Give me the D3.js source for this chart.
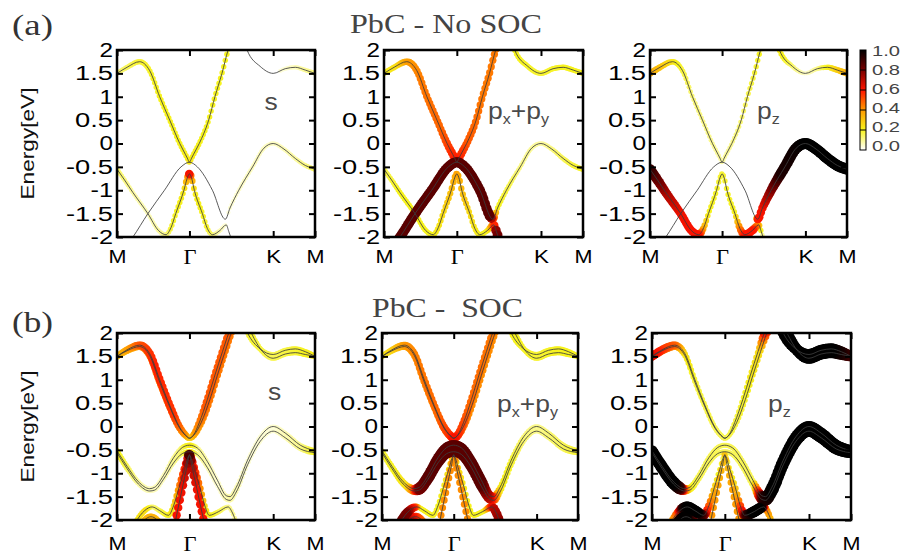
<!DOCTYPE html>
<html>
<head>
<meta charset="utf-8">
<script src="https://cdn.jsdelivr.net/npm/d3@7"></script>
<style>
  body { margin: 0; background: #fff; }
  svg { display: block; }
</style>
</head>
<body>
<svg id="fig" width="902" height="556"></svg>
<script>
// ---- k-path and axis ticks (hexagonal BZ: |ΓM| : |ΓK| : |KM| = 0.577 : 0.667 : 0.333)
const kTicks = [0, 0.577, 1.244, 1.577];
const kLabels = ["M", "Γ", "K", "M"];
const eTicks = [-2, -1.5, -1, -0.5, 0, 0.5, 1, 1.5, 2];
const eTickLabels = ["-2", "-1.5", "-1", "-0.5", "0", "0.5", "1", "1.5", "2"];
const cbTicks = [0, 0.2, 0.4, 0.6, 0.8, 1.0];
const cbTickLabels = ["0.0", "0.2", "0.4", "0.6", "0.8", "1.0"];
const cbColors = ["#ffffff", "#f7f31e", "#ff9a00", "#ff1400", "#780000", "#000000"];

// ---- bands without SOC: [k, E(eV)]
const nsV = [[0,1.5],[0.08,1.63],[0.18,1.75],[0.26,1.56],[0.34,1.0],[0.42,0.5],[0.5,0.0],[0.545,-0.234],[0.56,-0.312],[0.577,-0.4],[0.594,-0.313],[0.61,-0.23],[0.655,0.0],[0.73,0.5],[0.78,1.0],[0.836,1.5],[0.885,2.0],[0.95,2.4],[1.0,2.35],[1.036,2.0],[1.14,1.65],[1.244,1.5],[1.34,1.6],[1.42,1.63],[1.5,1.57],[1.577,1.5]];
const nsB = [[0,-0.55],[0.06,-0.78],[0.127,-1.05],[0.246,-1.5],[0.33,-1.86],[0.39,-1.95],[0.43,-1.8],[0.468,-1.5],[0.533,-1.0],[0.562,-0.72],[0.577,-0.65],[0.592,-0.72],[0.616,-1.0],[0.68,-1.5],[0.72,-1.82],[0.76,-1.95],[0.82,-1.86],[0.87,-1.74],[0.89,-1.88],[0.905,-2.0],[0.94,-2.35]];
const nsL = [[0,-2.45],[0.127,-2.0],[0.246,-1.5],[0.378,-1.0],[0.51,-0.5],[0.577,-0.4],[0.64,-0.5],[0.76,-1.0],[0.863,-1.62],[0.9,-1.38],[0.97,-1.0],[1.08,-0.5],[1.17,-0.1],[1.244,0.0],[1.33,-0.12],[1.42,-0.32],[1.5,-0.47],[1.577,-0.55]];

// orbital weights without SOC: [k, weight]
const nsV_s   = [[0,0.12],[0.18,0.18],[0.34,0.2],[0.5,0.2],[0.577,0.22],[0.655,0.2],[0.885,0.2],[0.95,0.1],[1.036,0.03],[1.244,0.02],[1.42,0.06],[1.577,0.12]];
const nsV_pxy = [[0,0.2],[0.1,0.25],[0.18,0.38],[0.3,0.45],[0.45,0.48],[0.577,0.6],[0.655,0.5],[0.78,0.45],[0.885,0.45],[0.95,0.3],[1.036,0.2],[1.244,0.18],[1.42,0.2],[1.577,0.2]];
const nsV_pz  = [[0,0.35],[0.08,0.3],[0.18,0.22],[0.34,0.12],[0.5,0.1],[0.577,0.08],[0.655,0.1],[0.78,0.15],[0.885,0.2],[0.95,0.22],[1.036,0.22],[1.14,0.12],[1.244,0.04],[1.34,0.1],[1.42,0.2],[1.577,0.35]];
const nsB_s   = [[0,0.14],[0.127,0.08],[0.246,0.06],[0.39,0.1],[0.43,0.18],[0.533,0.22],[0.562,0.4],[0.577,0.65],[0.592,0.4],[0.616,0.22],[0.72,0.18],[0.76,0.1],[0.87,0.03],[0.94,0]];
const nsB_pxy = [[0,0.15],[0.127,0.2],[0.39,0.2],[0.468,0.25],[0.533,0.32],[0.577,0.38],[0.616,0.32],[0.68,0.25],[0.76,0.2],[0.82,0.2],[0.87,0.5],[0.89,0.8],[0.94,0.85]];
const nsB_pz  = [[0,0.9],[0.06,0.82],[0.127,0.72],[0.246,0.62],[0.39,0.6],[0.43,0.35],[0.468,0.2],[0.577,0.18],[0.68,0.2],[0.72,0.45],[0.76,0.6],[0.82,0.6],[0.87,0.35],[0.905,0.05],[0.94,0]];
const nsL_s   = [[0,0],[0.84,0],[0.9,0.04],[1.1,0.06],[1.244,0.05],[1.42,0.08],[1.577,0.14]];
const nsL_pxy = [[0,0.85],[0.84,0.85],[0.863,0.55],[0.9,0.2],[1.0,0.15],[1.1,0.1],[1.244,0.08],[1.42,0.15],[1.577,0.2]];
const nsL_pz  = [[0,0],[0.84,0],[0.863,0.6],[0.9,0.62],[0.97,0.78],[1.05,0.95],[1.244,1.0],[1.577,1.0]];

// ---- bands with SOC: [k, E(eV)]
const socVa = [[0,1.5],[0.08,1.64],[0.18,1.74],[0.26,1.56],[0.34,1.0],[0.42,0.45],[0.5,-0.02],[0.545,-0.18],[0.577,-0.25],[0.61,-0.18],[0.655,0.08],[0.72,0.58],[0.78,1.1],[0.84,1.6],[0.89,2.0],[0.95,2.35],[1.0,2.25],[1.04,2.0],[1.14,1.66],[1.244,1.54],[1.34,1.63],[1.42,1.66],[1.5,1.6],[1.577,1.5]];
const socVb = [[0,1.5],[0.08,1.62],[0.18,1.71],[0.26,1.52],[0.34,0.95],[0.42,0.42],[0.5,-0.04],[0.545,-0.19],[0.577,-0.25],[0.61,-0.19],[0.67,0.08],[0.74,0.58],[0.8,1.1],[0.86,1.6],[0.91,2.0],[0.97,2.35],[1.02,2.3],[1.07,2.0],[1.16,1.6],[1.244,1.46],[1.34,1.55],[1.42,1.58],[1.5,1.54],[1.577,1.5]];
const socUa = [[0,-0.52],[0.08,-0.85],[0.17,-1.18],[0.26,-1.33],[0.3,-1.3],[0.37,-1.05],[0.45,-0.67],[0.52,-0.45],[0.577,-0.4],[0.64,-0.46],[0.72,-0.75],[0.8,-1.15],[0.87,-1.48],[0.9,-1.5],[0.95,-1.3],[1.04,-0.72],[1.14,-0.22],[1.244,0.0],[1.34,-0.14],[1.46,-0.4],[1.577,-0.52]];
const socUb = [[0,-0.56],[0.08,-0.9],[0.17,-1.23],[0.26,-1.38],[0.3,-1.36],[0.37,-1.13],[0.45,-0.78],[0.52,-0.58],[0.577,-0.54],[0.64,-0.6],[0.72,-0.88],[0.8,-1.28],[0.87,-1.56],[0.9,-1.58],[0.95,-1.4],[1.04,-0.82],[1.14,-0.32],[1.244,-0.1],[1.34,-0.24],[1.46,-0.48],[1.577,-0.56]];
const socW  = [[0.1,-2.35],[0.15,-2.05],[0.22,-1.8],[0.28,-1.72],[0.34,-1.8],[0.41,-1.9],[0.45,-1.7],[0.495,-1.3],[0.537,-0.92],[0.577,-0.62],[0.617,-0.92],[0.66,-1.3],[0.7,-1.7],[0.735,-1.9],[0.81,-1.82],[0.885,-1.72],[0.92,-1.85],[0.95,-2.05],[1.0,-2.4]];
const socX  = [[0.44,-2.35],[0.467,-2.0],[0.52,-1.32],[0.56,-0.82],[0.577,-0.6],[0.594,-0.82],[0.635,-1.32],[0.69,-2.0],[0.72,-2.35]];
const socH  = [[0.17,-2.25],[0.22,-2.0],[0.27,-1.93],[0.32,-2.0],[0.37,-2.25]];

// orbital weights with SOC: [k, weight]
const socVa_s   = [[0,0.3],[0.1,0.4],[0.18,0.5],[0.3,0.58],[0.45,0.55],[0.54,0.4],[0.577,0.25],[0.62,0.4],[0.7,0.5],[0.9,0.5],[0.97,0.3],[1.04,0.18],[1.244,0.15],[1.42,0.18],[1.577,0.22]];
const socVb_s   = [[0,0.28],[0.1,0.35],[0.18,0.42],[0.3,0.45],[0.45,0.45],[0.54,0.35],[0.577,0.25],[0.62,0.35],[0.7,0.45],[0.9,0.45],[1.0,0.3],[1.07,0.18],[1.244,0.15],[1.42,0.18],[1.577,0.22]];
const socVa_pxy = [[0,0.2],[0.1,0.3],[0.18,0.4],[0.3,0.45],[0.45,0.48],[0.54,0.55],[0.577,0.62],[0.62,0.55],[0.7,0.48],[0.9,0.45],[0.97,0.3],[1.04,0.2],[1.244,0.18],[1.42,0.2],[1.577,0.2]];
const socVb_pxy = [[0,0.2],[0.1,0.28],[0.18,0.38],[0.3,0.42],[0.45,0.42],[0.54,0.5],[0.577,0.6],[0.62,0.5],[0.7,0.42],[0.9,0.42],[1.0,0.3],[1.07,0.2],[1.244,0.18],[1.42,0.2],[1.577,0.2]];
const socVa_pz  = [[0,0.65],[0.08,0.55],[0.18,0.48],[0.26,0.25],[0.34,0.18],[0.5,0.15],[0.577,0.15],[0.7,0.18],[0.84,0.25],[0.89,0.6],[0.95,0.85],[1.0,1.0],[1.244,1.0],[1.42,1.0],[1.5,0.95],[1.577,0.85]];
const socVb_pz  = [[0,0.6],[0.08,0.5],[0.18,0.42],[0.26,0.22],[0.34,0.16],[0.5,0.15],[0.577,0.15],[0.72,0.18],[0.86,0.25],[0.91,0.55],[0.97,0.85],[1.02,1.0],[1.244,1.0],[1.42,1.0],[1.5,0.95],[1.577,0.85]];
const socU_s    = [[0,0.2],[0.08,0.15],[0.17,0.08],[0.26,0.06],[0.37,0.06],[0.5,0.12],[0.577,0.22],[0.64,0.1],[0.8,0.04],[0.9,0.08],[1.04,0.04],[1.244,0.04],[1.46,0.1],[1.577,0.2]];
const socU_pxy  = [[0,0.18],[0.1,0.2],[0.2,0.25],[0.25,0.45],[0.3,0.8],[0.37,0.85],[0.8,0.85],[0.86,0.7],[0.9,0.5],[0.95,0.22],[1.04,0.18],[1.14,0.12],[1.244,0.1],[1.46,0.15],[1.577,0.18]];
const socU_pz   = [[0,1.0],[0.17,1.0],[0.22,0.9],[0.26,0.45],[0.3,0.2],[0.37,0.15],[0.577,0.15],[0.8,0.15],[0.84,0.55],[0.88,0.92],[0.95,1.0],[1.577,1.0]];
const socW_s    = [[0.1,0.2],[0.22,0.25],[0.28,0.12],[0.41,0.2],[0.45,0.25],[0.5,0.45],[0.577,0.7],[0.655,0.45],[0.7,0.25],[0.735,0.2],[0.885,0.1],[1.0,0.1]];
const socW_pxy  = [[0.1,0.85],[0.2,0.8],[0.26,0.55],[0.3,0.2],[0.45,0.2],[0.5,0.22],[0.577,0.3],[0.655,0.22],[0.7,0.2],[0.82,0.2],[0.86,0.45],[0.9,0.7],[1.0,0.85]];
const socW_pz   = [[0.1,0.2],[0.2,0.5],[0.25,0.95],[0.28,1.0],[0.36,1.0],[0.4,0.85],[0.44,0.55],[0.48,0.35],[0.52,0.2],[0.577,0.15],[0.635,0.2],[0.675,0.35],[0.71,0.6],[0.75,0.9],[0.8,1.0],[0.86,1.0],[0.9,0.45],[0.95,0.3],[1.0,0.2]];
const socX_s    = [[0.44,0.6],[0.52,0.62],[0.56,0.72],[0.577,0.9],[0.594,0.72],[0.635,0.62],[0.72,0.6]];
const socX_pxy  = [[0.44,0.42],[0.577,0.42],[0.72,0.42]];
const socX_pz   = [[0.44,0.42],[0.52,0.38],[0.577,0.3],[0.635,0.38],[0.72,0.42]];
const socH_s    = [[0.17,0.3],[0.27,0.35],[0.37,0.3]];
const socH_pxy  = [[0.17,0.85],[0.27,0.55],[0.37,0.35]];
const socH_pz   = [[0.17,0.95],[0.27,1.0],[0.37,0.6]];

// ---- figure layout
const SANS = "'Liberation Sans', Arial, Helvetica, sans-serif";
const SERIF = "'Liberation Serif', 'Times New Roman', serif";
const svg = d3.select("#fig");
const color = d3.scaleLinear().domain(cbTicks).range(cbColors).clamp(true);
const radius = w => (w < 0.03 ? 0 : 2 + 3.6 * w);
const kGrid = d3.range(0, 1.5775, 0.0125);

// advance width used for the wide sans lettering of the axis numbers
const numWidth = (s, digit, dot, minus) =>
  d3.sum(Array.from(s), c => (c === "." ? dot : c === "-" ? minus : digit));

const orbLabels = [[["s", 0]], [["p", 0], ["x", 1], ["+p", 0], ["y", 1]], [["p", 0], ["z", 1]]];

const rows = [
  {
    key: "a", tag: "(a)", tagY: 35, title: "PbC - No SOC", titleX: 446, titleY: 33, titleLen: 192,
    y0: 50, y1: 237, xPad: 13,
    frames: [[117, 315], [384, 583], [650, 847]],
    orbPos: [[271, 110, "middle"], [488, 119, "start"], [757, 119, "start"]],
    bands: [
      { pts: nsV, w: [nsV_s, nsV_pxy, nsV_pz] },
      { pts: nsB, w: [nsB_s, nsB_pxy, nsB_pz] },
      { pts: nsL, w: [nsL_s, nsL_pxy, nsL_pz] }
    ]
  },
  {
    key: "b", tag: "(b)", tagY: 332, title: "PbC -  SOC", titleX: 447.5, titleY: 317, titleLen: 151,
    y0: 333, y1: 520, xPad: 17,
    frames: [[117, 315], [382, 578], [652, 851]],
    orbPos: [[274.5, 400, "middle"], [497, 412, "start"], [768, 412, "start"]],
    bands: [
      { pts: socVa, w: [socVa_s, socVa_pxy, socVa_pz] },
      { pts: socVb, w: [socVb_s, socVb_pxy, socVb_pz] },
      { pts: socUa, w: [socU_s, socU_pxy, socU_pz] },
      { pts: socUb, w: [socU_s, socU_pxy, socU_pz] },
      { pts: socW,  w: [socW_s, socW_pxy, socW_pz] },
      { pts: socX,  w: [socX_s, socX_pxy, socX_pz] },
      { pts: socH,  w: [socH_s, socH_pxy, socH_pz] }
    ]
  }
];

// y(x) lookup along a drawn band path
function sampler(node) {
  const L = node.getTotalLength();
  const xs = [], ys = [];
  for (let s = 0; s < L; s += 0.5) {
    const p = node.getPointAtLength(s);
    xs.push(p.x); ys.push(p.y);
  }
  const pe = node.getPointAtLength(L);
  xs.push(pe.x); ys.push(pe.y);
  return xv => {
    const i = d3.bisectLeft(xs, xv);
    if (i <= 0) return ys[0];
    if (i >= xs.length) return ys[ys.length - 1];
    const dx = xs[i] - xs[i - 1];
    const t = dx > 0 ? (xv - xs[i - 1]) / dx : 0;
    return ys[i - 1] + t * (ys[i] - ys[i - 1]);
  };
}

function drawPanel(row, j) {
  const [x0, x1] = row.frames[j];
  const x = d3.scaleLinear().domain([kTicks[0], kTicks[3]]).range([x0, x1]);
  const y = d3.scaleLinear().domain([-2, 2]).range([row.y1, row.y0]);
  const clipId = `clip-${row.key}${j}`;
  svg.append("clipPath").attr("id", clipId)
    .append("rect").attr("x", x0).attr("y", row.y0)
    .attr("width", x1 - x0).attr("height", row.y1 - row.y0);

  const plot = svg.append("g").attr("clip-path", `url(#${clipId})`);
  const dotLayer = plot.append("g");
  const lineLayer = plot.append("g");
  const line = d3.line().x(d => x(d[0])).y(d => y(d[1])).curve(d3.curveMonotoneX);

  const dots = [];
  row.bands.forEach(b => {
    const path = lineLayer.append("path")
      .attr("d", line(b.pts))
      .attr("fill", "none")
      .attr("stroke", "#3c3c3c")
      .attr("stroke-width", 0.85);
    const yAt = sampler(path.node());
    const ws = b.w[j];
    const wAt = d3.scaleLinear().domain(ws.map(d => d[0])).range(ws.map(d => d[1])).clamp(true);
    const kmin = b.pts[0][0], kmax = b.pts[b.pts.length - 1][0];
    kGrid.filter(k => k >= kmin && k <= kmax).forEach(k => {
      const cx = x(k), cy = yAt(cx), w = wAt(k);
      if (cy > row.y0 - 8 && cy < row.y1 + 8 && radius(w) > 0) dots.push({ cx, cy, w });
    });
  });
  dots.sort((a, b) => a.w - b.w);
  dotLayer.selectAll("circle").data(dots).join("circle")
    .attr("cx", d => d.cx).attr("cy", d => d.cy)
    .attr("r", d => radius(d.w))
    .attr("fill", d => color(d.w));

  // axes with inward ticks
  const styleAxis = g => {
    g.select(".domain").remove();
    g.selectAll(".tick line").attr("stroke", "#000").attr("stroke-width", 2);
  };
  const yl = svg.append("g").attr("transform", `translate(${x0},0)`)
    .call(d3.axisLeft(y).tickValues(eTicks).tickSize(-6).tickPadding(4)
      .tickFormat((d, i) => eTickLabels[i]))
    .call(styleAxis);
  yl.selectAll(".tick text")
    .attr("x", -4)
    .attr("textLength", (d, i) => numWidth(eTickLabels[i], 13.5, 11, 9))
    .attr("lengthAdjust", "spacingAndGlyphs")
    .attr("fill", "#000")
    .style("font-family", SANS).style("font-size", "20px");
  svg.append("g").attr("transform", `translate(${x1},0)`)
    .call(d3.axisRight(y).tickValues(eTicks).tickSize(-6).tickFormat(""))
    .call(styleAxis);
  const xb = svg.append("g").attr("transform", `translate(0,${row.y1})`)
    .call(d3.axisBottom(x).tickValues(kTicks).tickSize(-6).tickPadding(row.xPad)
      .tickFormat((d, i) => kLabels[i]))
    .call(styleAxis);
  xb.selectAll(".tick text")
    .attr("fill", "#000")
    .attr("textLength", (d, i) => (kLabels[i] === "M" ? 18 : kLabels[i] === "K" ? 15 : 13))
    .attr("lengthAdjust", "spacingAndGlyphs")
    .style("font-family", (d, i) => kLabels[i] === "Γ" ? SERIF : SANS)
    .style("font-size", (d, i) => kLabels[i] === "Γ" ? "20px" : "18.5px");
  svg.append("g").attr("transform", `translate(0,${row.y0})`)
    .call(d3.axisTop(x).tickValues(kTicks).tickSize(-6).tickFormat(""))
    .call(styleAxis);

  // frame
  svg.append("rect").attr("x", x0).attr("y", row.y0)
    .attr("width", x1 - x0).attr("height", row.y1 - row.y0)
    .attr("fill", "none").attr("stroke", "#000").attr("stroke-width", 2.5);

  // orbital label
  const [lx, ly, anchor] = row.orbPos[j];
  const t = svg.append("text")
    .attr("transform", `translate(${lx},${ly}) scale(1.15,1)`)
    .attr("text-anchor", anchor)
    .attr("fill", "#4a4a4a")
    .style("font-family", SANS).style("font-size", "23px");
  orbLabels[j].forEach(([s, sub], idx) => {
    const prevSub = idx > 0 && orbLabels[j][idx - 1][1];
    t.append("tspan").text(s)
      .attr("dy", sub ? 5 : (prevSub ? -5 : 0))
      .style("font-size", sub ? "14px" : "23px");
  });
}

rows.forEach(row => {
  row.frames.forEach((f, j) => drawPanel(row, j));

  svg.append("text")
    .attr("x", 12).attr("y", row.tagY)
    .attr("textLength", 41).attr("lengthAdjust", "spacingAndGlyphs")
    .attr("fill", "#333")
    .style("font-family", SERIF).style("font-size", "29px")
    .text(row.tag);

  svg.append("text")
    .attr("x", row.titleX - row.titleLen / 2).attr("y", row.titleY)
    .attr("textLength", row.titleLen).attr("lengthAdjust", "spacingAndGlyphs")
    .attr("fill", "#444")
    .style("white-space", "pre")
    .style("font-family", SERIF).style("font-size", "27px")
    .text(row.title);

  svg.append("text")
    .attr("transform", `translate(34,${(row.y0 + row.y1) / 2}) rotate(-90)`)
    .attr("x", -56)
    .attr("textLength", 112).attr("lengthAdjust", "spacingAndGlyphs")
    .attr("fill", "#111")
    .style("font-family", SANS).style("font-size", "18.5px")
    .text("Energy[eV]");
});

// ---- colour bar
const cbX = 860, cbW = 6, cbTop = 50, cbBot = 150;
const cbY = d3.scaleLinear().domain([0, 1]).range([cbBot, cbTop]);
const cbLabelY = d3.scaleLinear().domain([0, 1]).range([146, 51]);
const grad = svg.append("defs").append("linearGradient")
  .attr("id", "cbgrad").attr("x1", 0).attr("y1", 1).attr("x2", 0).attr("y2", 0);
cbTicks.forEach((v, i) => grad.append("stop").attr("offset", v).attr("stop-color", cbColors[i]));
svg.append("rect").attr("x", cbX).attr("y", cbTop).attr("width", cbW).attr("height", cbBot - cbTop)
  .attr("fill", "url(#cbgrad)").attr("stroke", "#000").attr("stroke-width", 1);
svg.append("g").selectAll("line").data(cbTicks.slice(1, -1)).join("line")
  .attr("x1", cbX).attr("x2", cbX + cbW)
  .attr("y1", d => cbY(d)).attr("y2", d => cbY(d))
  .attr("stroke", "#000").attr("stroke-width", 1);
svg.append("g").selectAll("text").data(cbTicks).join("text")
  .attr("x", 872).attr("y", d => cbLabelY(d))
  .attr("dy", "0.35em")
  .attr("textLength", (d, i) => numWidth(cbTickLabels[i], 10.5, 7, 8))
  .attr("lengthAdjust", "spacingAndGlyphs")
  .attr("fill", "#444")
  .style("font-family", SANS).style("font-size", "15.5px")
  .text((d, i) => cbTickLabels[i]);
</script>
</body>
</html>
